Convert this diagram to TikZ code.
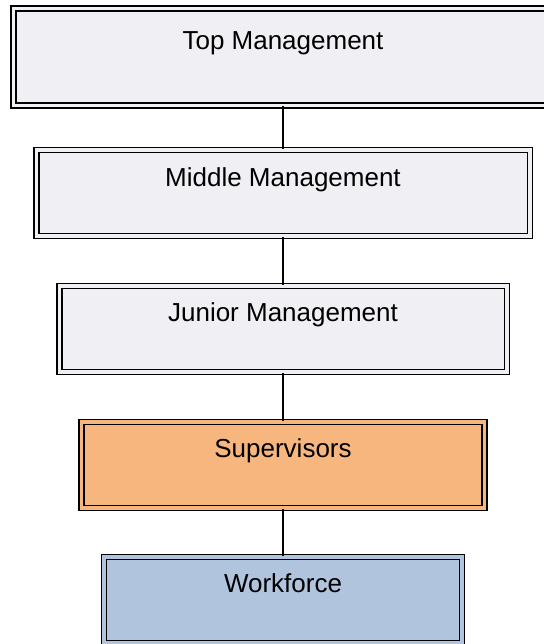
\documentclass[tikz,border=0pt]{standalone}
\usepackage{fontspec}
\setmainfont{Liberation Sans}
\definecolor{paleg}{RGB}{240,239,244}
\definecolor{orangef}{RGB}{247,182,126}
\definecolor{bluef}{RGB}{176,196,222}
\begin{document}
\begin{tikzpicture}[x = 0.5pt, y = -0.5pt]

    \tikzset{levelbox/.style={draw=black,shape=rectangle,line width=0.75pt,double distance=1.75pt,minimum height=43pt,inner sep=0pt}}
    \tikzset{leveltext/.style={anchor=base,font=\fontsize{13}{15}\selectfont}}

    \useasboundingbox (0,0) rectangle (544,644);

    \node[levelbox,fill=paleg,double=paleg,minimum width=269.5pt,minimum height=48.5pt] (top) at (283, 57.2) {};
    \node[levelbox,fill=paleg,double=paleg,minimum width=246.75pt] (middle) at (283, 193) {};
    \node[levelbox,fill=paleg,double=paleg,minimum width=223.75pt] (junior) at (283, 329) {};
    \node[levelbox,fill=orangef,double=orangef,minimum width=201.5pt] (super) at (283, 464.8) {};
    \node[levelbox,fill=bluef,double=bluef,minimum width=178.9pt] (work) at (283, 600.2) {};

    \begin{scope}[every path/.style={line width=0.75pt}]
        \draw (top) -- (middle);
        \draw (middle) -- (junior);
        \draw (junior) -- (super);
        \draw (super) -- (work);
    \end{scope}

    \node[leveltext] (toplabel) at (283, 49.3) {Top Management};
    \node[leveltext] (middlelabel) at (283, 186) {Middle Management};
    \node[leveltext] (juniorlabel) at (283, 321) {Junior Management};
    \node[leveltext] (superlabel) at (283, 457) {Supervisors};
    \node[leveltext] (worklabel) at (283, 592) {Workforce};

\end{tikzpicture}
\end{document}
